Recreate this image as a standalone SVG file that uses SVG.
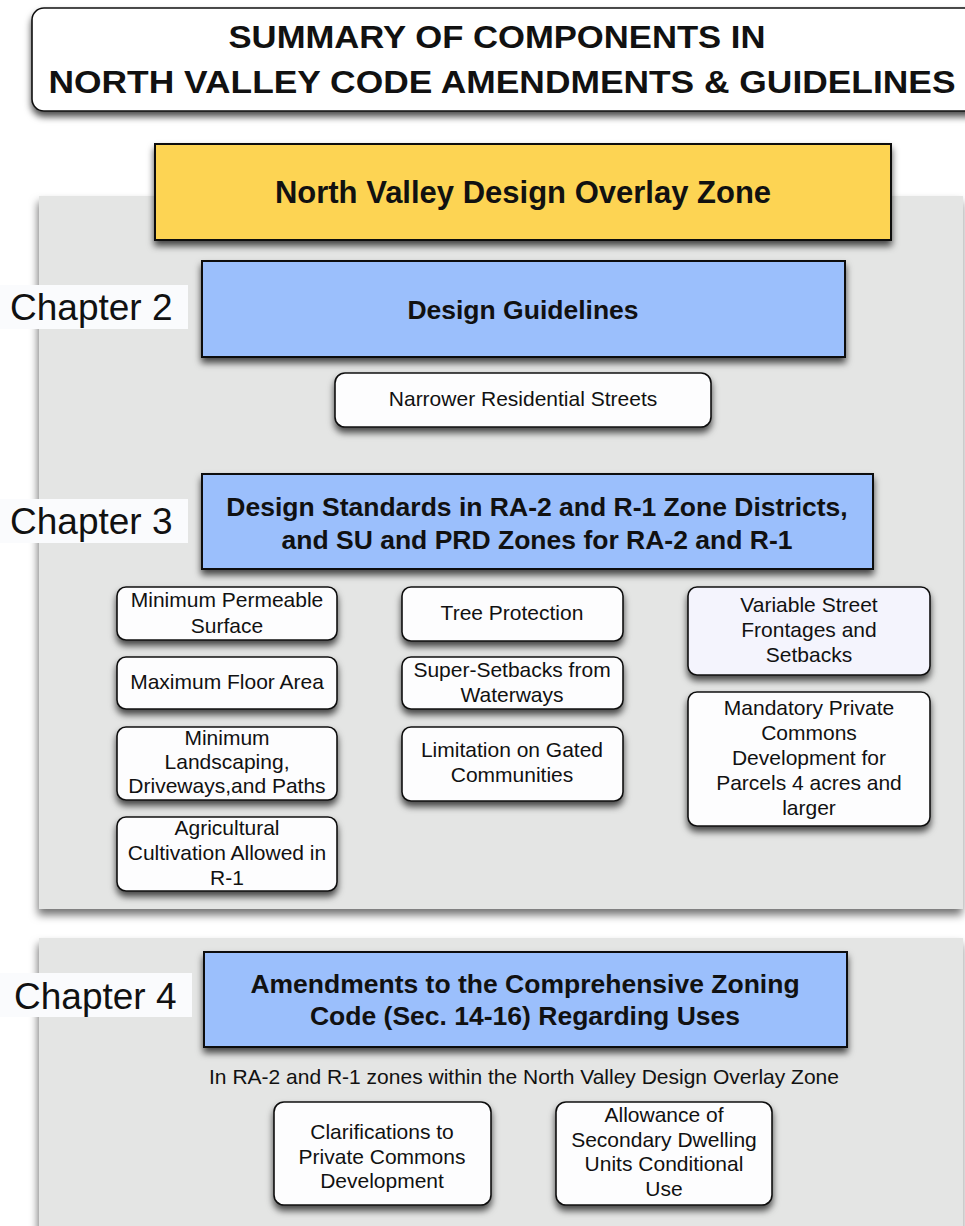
<svg xmlns="http://www.w3.org/2000/svg" width="965" height="1226" viewBox="0 0 965 1226">
<defs>
<filter id="sh" x="-10%" y="-20%" width="120%" height="150%">
<feDropShadow dx="0" dy="5" stdDeviation="3.5" flood-color="#000" flood-opacity="0.7"/>
</filter>
<filter id="psh" x="-5%" y="-5%" width="110%" height="110%">
<feDropShadow dx="-1" dy="6" stdDeviation="4" flood-color="#000" flood-opacity="0.55"/>
</filter>
</defs>
<style>
text{font-family:"Liberation Sans",Arial,Helvetica,sans-serif;fill:#111;text-anchor:middle}
.title{font-size:31px;font-weight:bold}
.hd{font-size:26.5px;font-weight:bold}
.yl{font-size:31px;font-weight:bold}
.nd{font-size:21px}
.ch{font-size:37px;text-anchor:start}
.node{fill:#fdfdfe;stroke:#111;stroke-width:1.6}
.blue{fill:#9bbffc;stroke:#111;stroke-width:2}
.panel{fill:#e4e5e4}
.lab{fill:#fafbfd}
</style>
<rect width="965" height="1226" fill="#fff"/>
<g id="title">
<rect x="32" y="8" width="950" height="103" rx="12" fill="#fff" stroke="#111" stroke-width="1.6" filter="url(#sh)"/>
<text class="title" x="497" y="48" textLength="537" lengthAdjust="spacingAndGlyphs">SUMMARY OF COMPONENTS IN</text>
<text class="title" x="502" y="93" textLength="907" lengthAdjust="spacingAndGlyphs">NORTH VALLEY CODE AMENDMENTS &amp; GUIDELINES</text>
</g>
<g id="panel1"><rect class="panel" x="39" y="196" width="924" height="713" filter="url(#psh)"/></g>
<g id="panel2"><rect class="panel" x="39" y="938" width="924" height="292" filter="url(#psh)"/></g>
<g id="overlay-zone">
<rect x="155" y="144" width="736" height="96" fill="#fdd453" stroke="#111" stroke-width="2" filter="url(#sh)"/>
<text class="yl" x="523" y="203">North Valley Design Overlay Zone</text>
</g>
<g id="chapter2">
<rect class="lab" x="0" y="285" width="188" height="44"/>
<text class="ch" x="10" y="320">Chapter 2</text>
</g>
<g id="design-guidelines">
<rect class="blue" x="202" y="261" width="643" height="96" filter="url(#sh)"/>
<text class="hd" x="523" y="319">Design Guidelines</text>
</g>
<g id="narrower-streets">
<rect class="node" x="335" y="373" width="376" height="54" rx="10" filter="url(#sh)"/>
<text class="nd" x="523" y="406">Narrower Residential Streets</text>
</g>
<g id="chapter3">
<rect class="lab" x="0" y="499" width="188" height="44"/>
<text class="ch" x="10" y="534">Chapter 3</text>
</g>
<g id="design-standards">
<rect class="blue" x="202" y="474" width="671" height="95" filter="url(#sh)"/>
<text class="hd" x="537" y="516">Design Standards in RA-2 and R-1 Zone Districts,</text>
<text class="hd" x="537" y="549">and SU and PRD Zones for RA-2 and R-1</text>
</g>
<g id="min-permeable">
<rect class="node" x="117" y="587" width="220" height="53" rx="9" filter="url(#sh)"/>
<text class="nd" x="227" y="607">Minimum Permeable</text>
<text class="nd" x="227" y="633">Surface</text>
</g>
<g id="max-floor">
<rect class="node" x="117" y="657" width="220" height="52" rx="9" filter="url(#sh)"/>
<text class="nd" x="227" y="689">Maximum Floor Area</text>
</g>
<g id="min-landscaping">
<rect class="node" x="117" y="727" width="220" height="73" rx="9" filter="url(#sh)"/>
<text class="nd" x="227" y="745">Minimum</text>
<text class="nd" x="227" y="769">Landscaping,</text>
<text class="nd" x="227" y="793">Driveways,and Paths</text>
</g>
<g id="agricultural">
<rect class="node" x="117" y="817" width="220" height="74" rx="9" filter="url(#sh)"/>
<text class="nd" x="227" y="835">Agricultural</text>
<text class="nd" x="227" y="860">Cultivation Allowed in</text>
<text class="nd" x="227" y="885">R-1</text>
</g>
<g id="tree-protection">
<rect class="node" x="402" y="587" width="221" height="54" rx="9" filter="url(#sh)"/>
<text class="nd" x="512" y="620">Tree Protection</text>
</g>
<g id="super-setbacks">
<rect class="node" x="402" y="657" width="221" height="52" rx="9" filter="url(#sh)"/>
<text class="nd" x="512" y="677">Super-Setbacks from</text>
<text class="nd" x="512" y="702">Waterways</text>
</g>
<g id="gated">
<rect class="node" x="402" y="727" width="221" height="74" rx="9" filter="url(#sh)"/>
<text class="nd" x="512" y="757">Limitation on Gated</text>
<text class="nd" x="512" y="782">Communities</text>
</g>
<g id="variable-frontages">
<rect class="node" x="688" y="587" width="242" height="88" rx="9" style="fill:#f4f4fd" filter="url(#sh)"/>
<text class="nd" x="809" y="612">Variable Street</text>
<text class="nd" x="809" y="637">Frontages and</text>
<text class="nd" x="809" y="662">Setbacks</text>
</g>
<g id="mandatory-commons">
<rect class="node" x="688" y="692" width="242" height="134" rx="9" filter="url(#sh)"/>
<text class="nd" x="809" y="715">Mandatory Private</text>
<text class="nd" x="809" y="740">Commons</text>
<text class="nd" x="809" y="765">Development for</text>
<text class="nd" x="809" y="790">Parcels 4 acres and</text>
<text class="nd" x="809" y="815">larger</text>
</g>
<g id="chapter4">
<rect class="lab" x="0" y="973" width="192" height="44"/>
<text class="ch" x="14" y="1009">Chapter 4</text>
</g>
<g id="amendments">
<rect class="blue" x="204" y="952" width="643" height="95" filter="url(#sh)"/>
<text class="hd" x="525" y="993">Amendments to the Comprehensive Zoning</text>
<text class="hd" x="525" y="1025">Code (Sec. 14-16) Regarding Uses</text>
</g>
<g id="zones-note">
<text class="nd" x="524" y="1084">In RA-2 and R-1 zones within the North Valley Design Overlay Zone</text>
</g>
<g id="clarifications">
<rect class="node" x="274" y="1102" width="217" height="103" rx="10" filter="url(#sh)"/>
<text class="nd" x="382" y="1139">Clarifications to</text>
<text class="nd" x="382" y="1164">Private Commons</text>
<text class="nd" x="382" y="1188">Development</text>
</g>
<g id="secondary-dwelling">
<rect class="node" x="556" y="1102" width="216" height="103" rx="10" filter="url(#sh)"/>
<text class="nd" x="664" y="1122">Allowance of</text>
<text class="nd" x="664" y="1147">Secondary Dwelling</text>
<text class="nd" x="664" y="1171">Units Conditional</text>
<text class="nd" x="664" y="1196">Use</text>
</g>
<g id="connectors"></g>
</svg>
